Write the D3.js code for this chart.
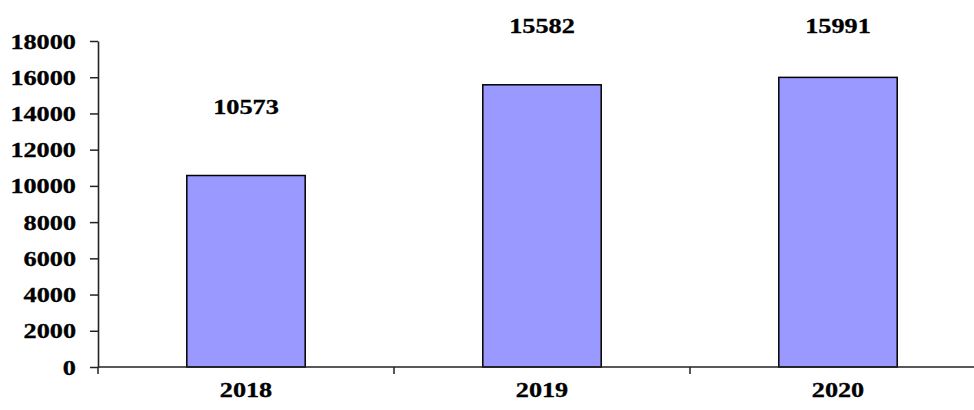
<!DOCTYPE html>
<html><head><meta charset="utf-8">
<script src="https://cdn.jsdelivr.net/npm/d3@7"></script>
<style>body{margin:0;background:#fff}</style>
</head><body>
<svg id="c" width="974" height="410"></svg>
<script>
const categories = ["2018", "2019", "2020"];
const values = [10573, 15582, 15991];
const yTicks = [0, 2000, 4000, 6000, 8000, 10000, 12000, 14000, 16000, 18000];

const svg = d3.select("#c");
const x = d3.scaleBand().domain(categories).range([98, 986]).paddingInner(0).paddingOuter(0);
const y = d3.scaleLinear().domain([0, 18000]).range([367, 41]);
const font = "'Liberation Serif','Times New Roman',serif";
const sx = 1.25;

// bars
const bw = x.bandwidth() * 0.4;
svg.selectAll("rect.bar").data(values).join("rect")
  .attr("x", (d, i) => x(categories[i]) + (x.bandwidth() - bw) / 2)
  .attr("y", d => y(d))
  .attr("width", bw)
  .attr("height", d => y(0) - y(d))
  .attr("fill", "#9999ff").attr("stroke", "#000").attr("stroke-width", 1.5);

// y axis
const gy = svg.append("g").attr("transform", "translate(98,0)")
  .call(d3.axisLeft(y).tickValues(yTicks).tickSize(8).tickSizeOuter(0).tickFormat(d3.format("d")));
gy.select(".domain").attr("stroke", "#222").attr("stroke-width", 1.6);
gy.selectAll(".tick line").attr("stroke", "#222").attr("stroke-width", 1.5);
gy.selectAll(".tick text").each(function() {
  const t = d3.select(this);
  t.attr("x", null).attr("dy", null)
   .attr("transform", `translate(-22,0) scale(${sx},1)`)
   .attr("dominant-baseline", "central");
}).attr("font-family", font).attr("font-weight", "bold").attr("font-size", 21).attr("fill", "#000")
  .attr("stroke", "#000").attr("stroke-width", 0.3).attr("text-anchor", "end");

// x axis
const gx = svg.append("g").attr("transform", `translate(0,${y(0)})`);
gx.append("line").attr("x1", 98).attr("x2", 974).attr("stroke", "#222").attr("stroke-width", 1.6);
const bounds = categories.map(c => x(c));
gx.selectAll("line.t").data(bounds).join("line").attr("class", "t")
  .attr("x1", d => d).attr("x2", d => d).attr("y1", 0).attr("y2", 7)
  .attr("stroke", "#222").attr("stroke-width", 1.5);
gx.selectAll("text").data(categories).join("text")
  .attr("transform", d => `translate(${x(d) + x.bandwidth() / 2},30) scale(${sx},1)`)
  .attr("text-anchor", "middle")
  .attr("font-family", font).attr("font-weight", "bold").attr("font-size", 21)
  .attr("stroke", "#000").attr("stroke-width", 0.3)
  .text(d => d);

// data labels
svg.selectAll("text.lbl").data(values).join("text").attr("class", "lbl")
  .attr("transform", (d, i) => `translate(${x(categories[i]) + x.bandwidth() / 2},${Math.max(y(d) - 62, 33)}) scale(${sx},1)`)
  .attr("text-anchor", "middle")
  .attr("font-family", font).attr("font-weight", "bold").attr("font-size", 21)
  .attr("stroke", "#000").attr("stroke-width", 0.3)
  .text(d => d);
</script>
</body></html>
